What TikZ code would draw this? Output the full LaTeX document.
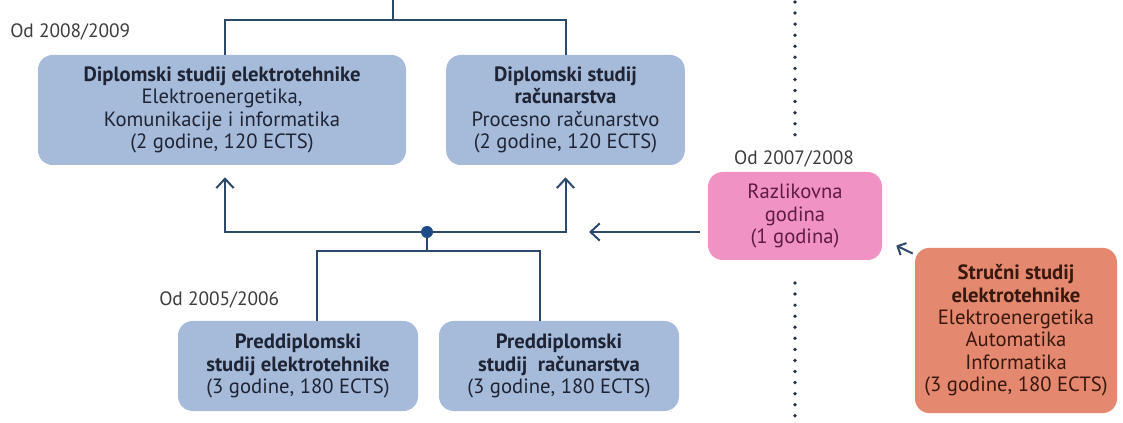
\documentclass[tikz,border=0pt]{standalone}
\usepackage{fontspec}
\setmainfont{PT Sans}
\usetikzlibrary{arrows.meta}
\definecolor{boxblue}{RGB}{166,186,218}
\definecolor{boxpink}{RGB}{241,146,196}
\definecolor{boxorange}{RGB}{228,136,111}
\definecolor{linecol}{RGB}{44,72,106}
\definecolor{dotcol}{RGB}{28,76,136}
\definecolor{sepcol}{RGB}{36,48,72}
\definecolor{txtblue}{RGB}{30,36,52}
\definecolor{txtpink}{RGB}{96,28,66}
\definecolor{txtorange}{RGB}{56,24,14}
\definecolor{lbl}{RGB}{60,60,60}
\begin{document}
\begin{tikzpicture}[x=0.75pt,y=-0.75pt,
  box/.style={rounded corners=11pt, align=center, inner sep=0pt,
    font=\fontsize{15.5}{16.8}\selectfont},
  bluebox/.style={box, fill=boxblue, text=txtblue},
  pinkbox/.style={box, fill=boxpink, text=txtpink},
  orangebox/.style={box, fill=boxorange, text=txtorange},
  yearlbl/.style={font=\fontsize{14.5}{16}\selectfont, text=lbl, inner sep=0pt},
  conn/.style={draw=linecol, line width=1.5pt},
  arr/.style={conn, -{Straight Barb[length=7pt,width=13pt,line width=1.5pt]}},
  dotline/.style={draw=sepcol, line width=2.8pt, line cap=round, dash pattern=on 0pt off 8.3pt}
]
\useasboundingbox (0,0) rectangle (1123,423);

% boxes
\node[bluebox, minimum width=276pt, minimum height=82.5pt] (A) at (222,110)
  {\textbf{Diplomski studij elektrotehnike}\\Elektroenergetika,\\Komunikacije i informatika\\(2 godine, 120 ECTS)};
\node[bluebox, minimum width=179pt, minimum height=82.5pt] (B) at (565.5,110)
  {\textbf{Diplomski studij}\\\textbf{računarstva}\\Procesno računarstvo\\(2 godine, 120 ECTS)};
\node[bluebox, minimum width=180pt, minimum height=67.5pt] (C) at (298,366)
  {\textbf{Preddiplomski}\\\textbf{studij elektrotehnike}\\(3 godine, 180 ECTS)};
\node[bluebox, minimum width=180pt, minimum height=67.5pt] (D) at (559,366)
  {\textbf{Preddiplomski}\\\textbf{studij\ \ računarstva}\\(3 godine, 180 ECTS)};
\node[pinkbox, minimum width=130.5pt, minimum height=66pt] (P) at (795,216)
  {Razlikovna\\godina\\(1 godina)};
\node[orangebox, minimum width=151.5pt, minimum height=124pt] (O) at (1016,330.5)
  {\textbf{Stručni studij}\\\textbf{elektrotehnike}\\Elektroenergetika\\Automatika\\Informatika\\(3 godine, 180 ECTS)};

% year labels
\node[yearlbl, anchor=west] (y1) at (10,32) {Od 2008/2009};
\node[yearlbl, anchor=west] (y2) at (159,300) {Od 2005/2006};
\node[yearlbl] (y3) at (794,159) {Od 2007/2008};

% dotted separator
\coordinate (d1) at (795,2);
\coordinate (d2) at (795,143);
\coordinate (d3) at (795,283);
\coordinate (d4) at (795,421);
\draw[dotline] (d1) -- (d2);
\draw[dotline] (d3) -- (d4);

% top bracket
\coordinate (ttop) at (393,0);
\coordinate (tj) at (393,20);
\draw[conn] ([xshift=2.25pt]A.north) |- (tj) -| (B.north);
\draw[conn] (tj) -- (ttop);

% junction and arrows up
\coordinate (hj) at (427,232);
\draw[arr] (hj) -| ([xshift=2.25pt,yshift=-9pt]A.south);
\draw[arr] (hj) -| ([yshift=-9pt]B.south);

% lower bracket
\coordinate (lj) at (427,251);
\draw[conn] (hj) -- (lj);
\draw[conn] ([xshift=14.25pt]C.north) |- (lj) -| ([xshift=-14.25pt]D.north);
\fill[dotcol] (hj) circle[radius=4.5pt];

% arrow from pink box
\coordinate (ptail) at (700,232);
\coordinate (ptip) at (589,232);
\draw[arr] (ptail) -- (ptip);

% arrow from orange box to pink box
\coordinate (otail) at ([xshift=-1.5pt,yshift=-4.5pt]O.north west);
\coordinate (otip) at ([xshift=10.5pt,yshift=11pt]P.south east);
\draw[conn, -{Straight Barb[length=5pt,width=10pt,line width=1.5pt]}] (otail) -- (otip);
\end{tikzpicture}
\end{document}
